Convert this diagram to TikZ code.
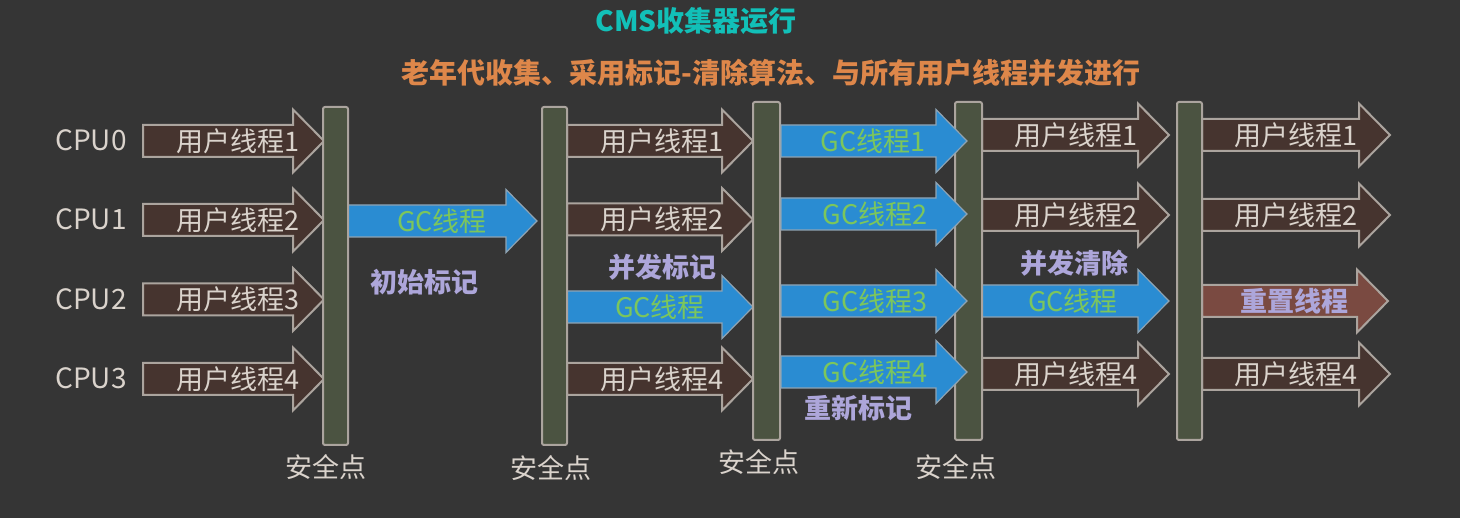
\documentclass[tikz,border=0pt]{standalone}
\usepackage{fontspec}
\setmainfont{Noto Sans CJK SC}
\definecolor{bg}{HTML}{353535}
\definecolor{ubrown}{HTML}{46342F}
\definecolor{rbrown}{HTML}{7A4A41}
\definecolor{gcblue}{HTML}{2A8CD2}
\definecolor{edge}{HTML}{ABA49E}
\definecolor{gcedge}{HTML}{8FA4B4}
\definecolor{barfill}{HTML}{4B5341}
\definecolor{utxt}{HTML}{DAD3CC}
\definecolor{gctxt}{HTML}{7CC65C}
\definecolor{lav}{HTML}{ADA6DA}
\definecolor{cyantitle}{HTML}{12C0B8}
\definecolor{orangesub}{HTML}{DE874A}
\newcommand\thrarrow[4]{%
  \path[#1] (#2,#4-16) -- (#3-31,#4-16) -- (#3-31,#4-31.5) -- (#3,#4)
    -- (#3-31,#4+31.5) -- (#3-31,#4+16) -- (#2,#4+16) -- cycle;}
\tikzset{
  ubox/.style={fill=ubrown, draw=edge, line width=2pt, line join=miter},
  gcbox/.style={fill=gcblue, draw=gcedge, line width=1.2pt, line join=miter},
  rbox/.style={fill=rbrown, draw=edge, line width=2pt, line join=miter},
  spbar/.style={fill=barfill, draw=edge, line width=2pt, rounded corners=2pt,
    minimum width=25pt, inner sep=0pt},
  utext/.style={text=utxt, inner sep=0pt, font=\fontsize{27}{27}\selectfont},
  gtext/.style={text=gctxt, inner sep=0pt, font=\fontsize{27}{27}\selectfont},
  rtext/.style={text=lav, inner sep=0pt, font=\fontsize{27}{27}\selectfont\bfseries},
  cpu/.style={text=utxt, inner sep=0pt, font=\fontsize{28}{28}\selectfont},
  safe/.style={text=utxt, inner sep=0pt, font=\fontsize{27}{27}\selectfont},
  stage/.style={text=lav, inner sep=0pt, font=\fontsize{27}{27}\selectfont\bfseries},
}
\begin{document}
\begin{tikzpicture}[x=1pt,y=-1pt]
\fill[bg] (0,0) rectangle (1460,518);
\useasboundingbox (0,0) rectangle (1460,518);

% titles
\node[text=cyantitle, inner sep=0pt, font=\fontsize{28}{28}\selectfont\bfseries] (title) at (696,21) {CMS收集器运行};
\node[text=orangesub, inner sep=0pt, font=\fontsize{28}{28}\selectfont\bfseries] (subtitle) at (771,73) {老年代收集、采用标记-清除算法、与所有用户线程并发进行};

% CPU labels
\node[cpu] (cpu0) at (91,140) {CPU0};
\node[cpu] (cpu1) at (91,219) {CPU1};
\node[cpu] (cpu2) at (91,299) {CPU2};
\node[cpu] (cpu3) at (91,378) {CPU3};

% column 1: user threads
\thrarrow{ubox}{143}{324}{141}
\thrarrow{ubox}{143}{324}{220}
\thrarrow{ubox}{143}{324}{299.5}
\thrarrow{ubox}{143}{324}{379}
\node[utext] (a1) at (238,141) {用户线程1};
\node[utext] (a2) at (238,220) {用户线程2};
\node[utext] (a3) at (238,299.5) {用户线程3};
\node[utext] (a4) at (238,379) {用户线程4};

% initial mark GC thread
\thrarrow{gcbox}{348}{537}{221}
\node[gtext] (g0) at (442,221) {GC线程};
\node[stage] (s1) at (424,282) {初始标记};

% column 2
\thrarrow{ubox}{567}{753}{141}
\thrarrow{ubox}{567}{753}{219.5}
\thrarrow{gcbox}{567}{753}{307}
\thrarrow{ubox}{567}{753}{379}
\node[utext] (b1) at (662,141) {用户线程1};
\node[utext] (b2) at (662,219.5) {用户线程2};
\node[gtext] (b3) at (660,307) {GC线程};
\node[utext] (b4) at (662,379) {用户线程4};
\node[stage] (s2) at (662,267) {并发标记};

% column 4
\thrarrow{ubox}{982}{1169}{135}
\thrarrow{ubox}{982}{1169}{215}
\thrarrow{gcbox}{982}{1169}{301}
\thrarrow{ubox}{982}{1169}{374}
\node[utext] (d1) at (1076,135) {用户线程1};
\node[utext] (d2) at (1076,215) {用户线程2};
\node[gtext] (d3) at (1073,301) {GC线程};
\node[utext] (d4) at (1076,374) {用户线程4};
\node[stage] (s4) at (1074,263) {并发清除};

% column 5
\thrarrow{ubox}{1202}{1390}{135}
\thrarrow{ubox}{1202}{1390}{215}
\thrarrow{rbox}{1202}{1388}{301}
\thrarrow{ubox}{1202}{1390}{374}
\node[utext] (e1) at (1296,135) {用户线程1};
\node[utext] (e2) at (1296,215) {用户线程2};
\node[rtext] (e3) at (1294,301) {重置线程};
\node[utext] (e4) at (1296,374) {用户线程4};

% safe point bars
\node[spbar, minimum height=338pt] (sp1) at (335.5,276) {};
\node[spbar, minimum height=338pt] (sp2) at (554.5,276) {};
\node[spbar, minimum height=338pt, minimum width=27pt] (sp3) at (766.5,271) {};
\node[spbar, minimum height=338pt, minimum width=27pt] (sp4) at (968.5,271) {};
\node[spbar, minimum height=338pt] (sp5) at (1189.5,271) {};

% column 3 (remark) GC threads, drawn over the next bar
\thrarrow{gcbox}{781}{967}{141}
\thrarrow{gcbox}{781}{967}{214}
\thrarrow{gcbox}{781}{967}{301}
\thrarrow{gcbox}{781}{967}{372}
\node[gtext] (c1) at (873,141) {GC线程1};
\node[gtext] (c2) at (875,214) {GC线程2};
\node[gtext] (c3) at (875,301) {GC线程3};
\node[gtext] (c4) at (875,372) {GC线程4};
\node[stage] (s3) at (858,408) {重新标记};

% safe point labels
\node[safe] (l1) at (326,467) {安全点};
\node[safe] (l2) at (551,468) {安全点};
\node[safe] (l3) at (759,462) {安全点};
\node[safe] (l4) at (956,467) {安全点};
\end{tikzpicture}
\end{document}
